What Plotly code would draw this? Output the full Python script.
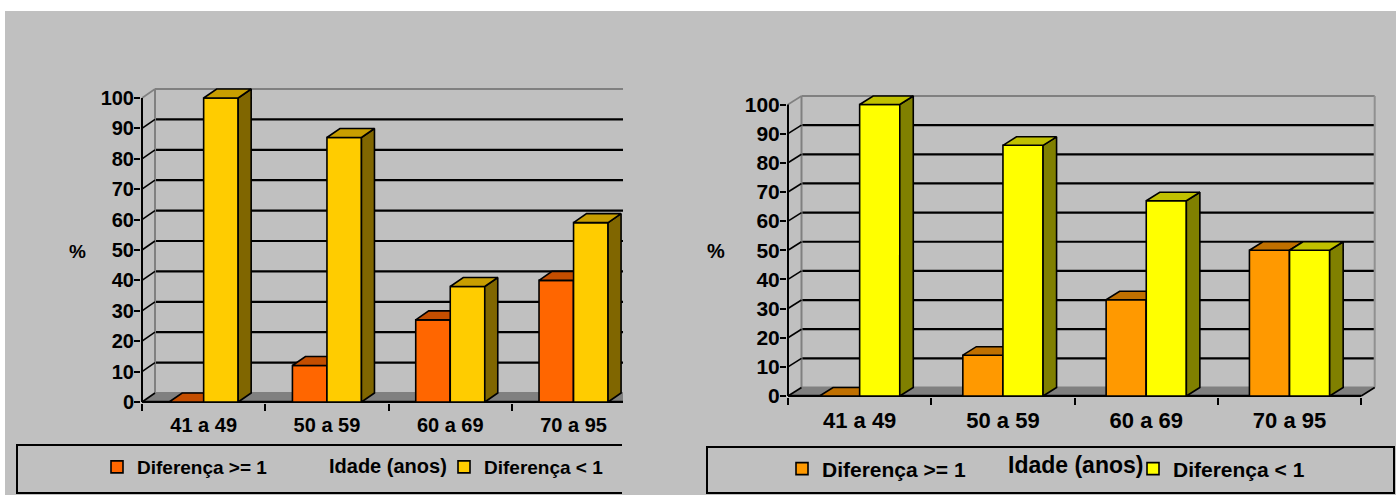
import plotly.graph_objects as go

# ---------------- data ----------------
CATEGORIES = ["41 a 49", "50 a 59", "60 a 69", "70 a 95"]
LEFT_GE1 = [0, 12, 27, 40]      # Diferença >= 1 (left chart)
LEFT_LT1 = [100, 87, 38, 59]    # Diferença < 1 (left chart)
RIGHT_GE1 = [0, 14, 33, 50]     # Diferença >= 1 (right chart)
RIGHT_LT1 = [100, 86, 67, 50]   # Diferença < 1 (right chart)
Y_TICKS = [0, 10, 20, 30, 40, 50, 60, 70, 80, 90, 100]
SERIES_NAMES = ["Diferença >= 1", "Diferença < 1"]
X_TITLE = "Idade (anos)"
Y_TITLE = "%"

# ---------------- geometry / style ----------------
FIG_W, FIG_H = 1396, 495
FONT = "Liberation Sans, Arial, sans-serif"
BW = 0.28  # bar width as fraction of a category

def pxx(p):
    return p / FIG_W

def pxy(p):
    return 1 - p / FIG_H

PANELS = [
    dict(ge=LEFT_GE1, lt=LEFT_LT1, x0=142, y0=402, cat_w=123.3, ppu=3.04, depth=(13, 9),
         clip=623, axes=("x", "y", "x2", "y2"), legends=("legend", "legend2"),
         colors=dict(o_front="#FF6600", o_top="#C44E00", o_side="#803300",
                     y_front="#FFCC00", y_top="#C89E00", y_side="#806600"),
         tick_fs=20, cat_fs=20, leg_fs=19, title_fs=20, pct_fs=19,
         pct_xy=(77, 251), title_xy=(388, 466),
         leg_pos=((97, 467), (444, 467)),
         box=(17, 445, 622, 493, False)),
    dict(ge=RIGHT_GE1, lt=RIGHT_LT1, x0=788, y0=396, cat_w=143.3, ppu=2.915, depth=(13.5, 8.5),
         clip=None, axes=("x3", "y3", "x4", "y4"), legends=("legend3", "legend4"),
         colors=dict(o_front="#FF9900", o_top="#C07000", o_side="#804C00",
                     y_front="#FFFF00", y_top="#C0C000", y_side="#808000"),
         tick_fs=21, cat_fs=22, leg_fs=21, title_fs=23, pct_fs=20,
         pct_xy=(716, 251), title_xy=(1075, 465),
         leg_pos=((782, 469), (1133, 469)),
         box=(707, 447, 1394, 493, True)),
]

fig = go.Figure()
shapes = [dict(type="rect", xref="paper", yref="paper", x0=pxx(5), x1=1, y0=0, y1=pxy(11),
               fillcolor="#C0C0C0", line=dict(width=0), layer="below")]
annotations = []
layout_axes = {}
legends = {}

n = len(CATEGORIES)
ymax = max(Y_TICKS)


def polys(vals, off, dx, dy, kind):
    xs, ys = [], []
    for i, v in enumerate(vals):
        xl = i + off
        xr = xl + BW
        if kind == "top":
            px = [xl, xr, xr + dx, xl + dx, xl]
            py = [v, v, v + dy, v + dy, v]
        else:
            px = [xr, xr + dx, xr + dx, xr, xr]
            py = [0, dy, v + dy, v, 0]
        xs += px + [None]
        ys += py + [None]
    return xs, ys


for P in PANELS:
    xa, ya, xa2, ya2 = P["axes"]
    cw, ppu = P["cat_w"], P["ppu"]
    dx = P["depth"][0] / cw
    dy = P["depth"][1] / ppu
    x_lo = -0.5 - 1.0 / cw
    if P["clip"]:
        x_hi = -0.5 + (P["clip"] - P["x0"]) / cw
    else:
        x_hi = n - 0.5 + dx + 2.0 / cw
    y_lo = -1.0 / ppu
    y_hi = ymax + dy + 1.5 / ppu
    dom_x = [pxx(P["x0"] + (x_lo + 0.5) * cw), pxx(P["x0"] + (x_hi + 0.5) * cw)]
    dom_y = [pxy(P["y0"] - y_lo * ppu), pxy(P["y0"] - y_hi * ppu)]
    C = P["colors"]
    tf = dict(family=FONT, size=P["tick_fs"], color="black", weight="bold")

    layout_axes["xaxis" + xa[1:]] = dict(
        domain=dom_x, range=[x_lo, x_hi], anchor=ya, tickmode="array",
        tickvals=list(range(n)), ticktext=CATEGORIES, ticks="", showgrid=False,
        zeroline=False, showline=False, fixedrange=True, ticklabelstandoff=8,
        automargin=False,
        tickfont=dict(family=FONT, size=P["cat_fs"], color="black", weight="bold"))
    layout_axes["yaxis" + ya[1:]] = dict(
        domain=dom_y, range=[y_lo, y_hi], anchor=xa, tickmode="array",
        tickvals=Y_TICKS, ticks="outside", ticklen=6, tickwidth=2, tickcolor="black",
        showgrid=False, zeroline=False, showline=False, fixedrange=True, tickfont=tf,
        ticklabelstandoff=-4, automargin=False)
    layout_axes["xaxis" + xa2[1:]] = dict(
        overlaying=xa, anchor=ya2, range=[x_lo, x_hi], tickmode="array",
        tickvals=[i - 0.5 for i in range(n + 1)], ticks="outside", ticklen=7,
        tickwidth=2, tickcolor="black", showticklabels=False, showgrid=False,
        zeroline=False, showline=False, fixedrange=True, automargin=False)
    layout_axes["yaxis" + ya2[1:]] = dict(
        overlaying=ya, anchor=xa2, range=[y_lo, y_hi], showticklabels=False,
        ticks="", showgrid=False, zeroline=False, showline=False, fixedrange=True,
        automargin=False)

    def ln(x0, y0, x1, y1, color="black", width=2):
        return dict(type="line", xref=xa, yref=ya, x0=x0, y0=y0, x1=x1, y1=y1,
                    line=dict(color=color, width=width), layer="below")

    # floor
    shapes.append(dict(type="path", xref=xa, yref=ya, layer="below",
                       path=f"M {-0.5},0 L {n-0.5},0 L {n-0.5+dx},{dy} L {-0.5+dx},{dy} Z",
                       fillcolor="#808080", line=dict(width=0)))
    # back wall gridlines
    for v in Y_TICKS:
        col = "#808080" if v in (0, ymax) else "black"
        shapes.append(ln(-0.5 + dx, v + dy, n - 0.5 + dx, v + dy, col, 2.2))
    # wall edges
    shapes.append(ln(-0.5 + dx, dy, -0.5 + dx, ymax + dy, "#808080", 2))
    shapes.append(ln(n - 0.5 + dx, dy, n - 0.5 + dx, ymax + dy, "#909090", 2))
    # side wall diagonals
    for v in Y_TICKS:
        col = "#808080" if v == ymax else "black"
        shapes.append(ln(-0.5, v, -0.5 + dx, v + dy, col, 1.6))
    shapes.append(ln(n - 0.5, 0, n - 0.5 + dx, dy, "black", 1.6))
    # front axes
    shapes.append(ln(-0.5, 0, -0.5, ymax, "black", 2))
    shapes.append(ln(-0.5, 0, n - 0.5, 0, "black", 2.5))

    # orange series (base subplot)
    fig.add_trace(go.Bar(x=list(range(n)), y=P["ge"], width=BW, offset=-BW,
                         marker=dict(color=C["o_front"], line=dict(color="black", width=1.6)),
                         name=SERIES_NAMES[0], xaxis=xa, yaxis=ya, legend=P["legends"][0],
                         hoverinfo="skip"))
    for kind, col in (("side", C["o_side"]), ("top", C["o_top"])):
        xs, ys = polys(P["ge"], -BW, dx, dy, kind)
        fig.add_trace(go.Scatter(x=xs, y=ys, mode="lines", fill="toself", fillcolor=col,
                                 line=dict(color="black", width=1.6), showlegend=False,
                                 xaxis=xa, yaxis=ya, hoverinfo="skip"))
    # yellow series (overlay subplot, drawn on top)
    fig.add_trace(go.Bar(x=list(range(n)), y=P["lt"], width=BW, offset=0,
                         marker=dict(color=C["y_front"], line=dict(color="black", width=1.6)),
                         name=SERIES_NAMES[1], xaxis=xa2, yaxis=ya2, legend=P["legends"][1],
                         hoverinfo="skip"))
    for kind, col in (("side", C["y_side"]), ("top", C["y_top"])):
        xs, ys = polys(P["lt"], 0, dx, dy, kind)
        fig.add_trace(go.Scatter(x=xs, y=ys, mode="lines", fill="toself", fillcolor=col,
                                 line=dict(color="black", width=1.6), showlegend=False,
                                 xaxis=xa2, yaxis=ya2, hoverinfo="skip"))

    # legends
    for key, (lx, ly) in zip(P["legends"], P["leg_pos"]):
        legends[key] = dict(x=pxx(lx), y=pxy(ly), xanchor="left", yanchor="middle",
                            bgcolor="rgba(0,0,0,0)", borderwidth=0,
                            font=dict(family=FONT, size=P["leg_fs"], color="black", weight="bold"))
    # legend box
    bx0, by0, bx1, by1, closed = P["box"]
    path = f"M {pxx(bx1)},{pxy(by0)} L {pxx(bx0)},{pxy(by0)} L {pxx(bx0)},{pxy(by1)} L {pxx(bx1)},{pxy(by1)}"
    if closed:
        path += " Z"
    shapes.append(dict(type="path", xref="paper", yref="paper", path=path,
                       line=dict(color="black", width=2)))
    # titles
    annotations.append(dict(text=Y_TITLE, xref="paper", yref="paper", x=pxx(P["pct_xy"][0]),
                            y=pxy(P["pct_xy"][1]), showarrow=False, xanchor="center", yanchor="middle",
                            font=dict(family=FONT, size=P["pct_fs"], color="black", weight="bold")))
    annotations.append(dict(text=X_TITLE, xref="paper", yref="paper", x=pxx(P["title_xy"][0]),
                            y=pxy(P["title_xy"][1]), showarrow=False, xanchor="center", yanchor="middle",
                            font=dict(family=FONT, size=P["title_fs"], color="black", weight="bold")))

fig.update_layout(template="none", width=FIG_W, height=FIG_H, autosize=False,
                  margin=dict(l=0, r=0, t=0, b=0, pad=0, autoexpand=False),
                  paper_bgcolor="white", plot_bgcolor="rgba(0,0,0,0)",
                  shapes=shapes, annotations=annotations, showlegend=True,
                  **layout_axes, **legends)

fig.write_html("out.html")
